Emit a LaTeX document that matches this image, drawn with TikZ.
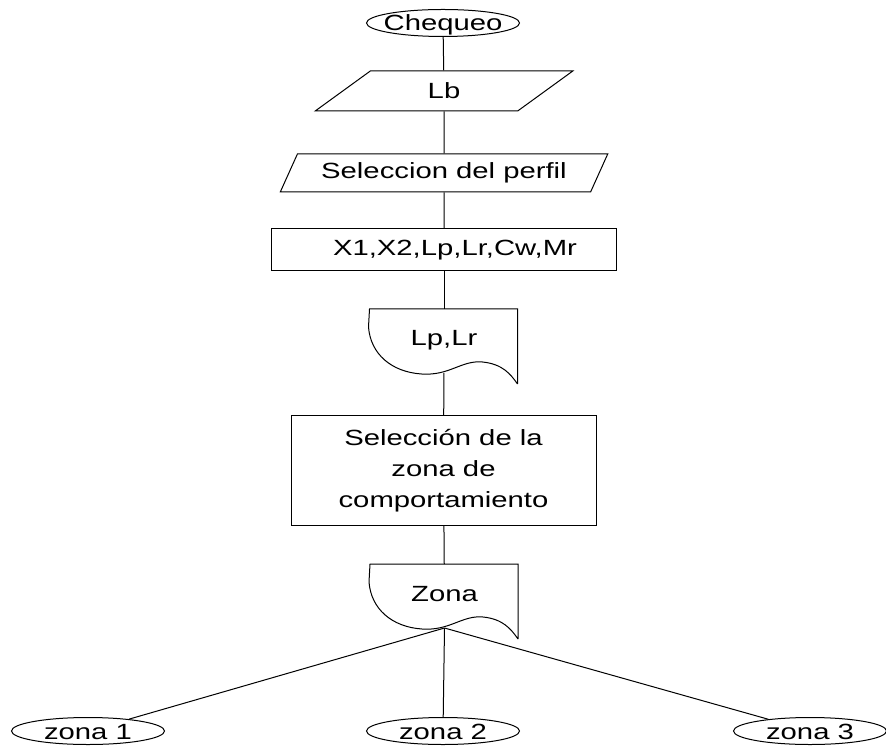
\documentclass[tikz,border=0pt]{standalone}
\usepackage{fontspec}
\setmainfont[FakeStretch=1.33]{Liberation Sans}
\usetikzlibrary{shapes.geometric}
\tikzset{
  base/.style  = {line width=0.5pt, inner sep=0pt, align=center},
  term/.style  = {base, draw, ellipse, minimum width=76.5pt, minimum height=13.5pt,
                  text height=8pt, text depth=0pt},
  io/.style    = {base, draw, trapezium, trapezium left angle=53, trapezium right angle=127,
                  trapezium stretches=true},
  proc/.style  = {base, draw, rectangle},
  docnode/.style = {base, rectangle, minimum width=74pt, text height=8pt, text depth=3pt,
                    inner ysep=10.25pt},
  link/.style  = {line width=0.5pt},
  docshape/.pic = {
    \draw[line width=0.5pt] (148,75) -- (148,0) -- (0,0) -- (-1,18)
      .. controls (1,45) and (22,63) .. (52,65)
      .. controls (80,67) and (92,51) .. (113,53)
      .. controls (133,55) and (141,65) .. (148,75);
  },
}

\begin{document}
\begin{tikzpicture}[x=0.5pt, y=-0.5pt, font=\fontsize{11}{15.5}\selectfont]
  \useasboundingbox (0,0) rectangle (886,747);
  \node[term] (chq) at (443,23) {\makebox[0pt]{Chequeo}};
  \node[io, minimum width=129pt, minimum height=20pt] (lb) at (444,91) {Lb};
  \node[io, minimum width=164pt, minimum height=19pt, trapezium left angle=55,
        trapezium right angle=125] (perfil) at (444,173) {Seleccion del perfil};
  \node[proc, minimum width=172.5pt, minimum height=21pt] (datos) at (444,250)
        {\hspace{11pt}X1,X2,Lp,Lr,Cw,Mr};
  \node[docnode, anchor=north] (lplr) at (444,309) {Lp,Lr};
  \pic at (lplr.north west) {docshape};
  \node[proc, minimum width=152.5pt, minimum height=54.5pt] (selzona) at (443.5,470.5)
        {Selección de la\\zona de\\comportamiento};
  \node[docnode, anchor=north] (zona) at (444.5,564) {Zona};
  \pic at (zona.north west) {docshape};
  \node[term] (z1) at (88,731) {\makebox[0pt]{zona 1}};
  \node[term] (z2) at (443,731) {\makebox[0pt]{zona 2}};
  \node[term] (z3) at (810,731) {\makebox[0pt]{zona 3}};
  \draw[link] (chq) -- (lb);
  \draw[link] (lb) -- (perfil);
  \draw[link] (perfil) -- (datos);
  \draw[link] (datos) -- (lplr);
  \draw[link] (lplr) -- (selzona);
  \draw[link] (selzona) -- (zona);
  \draw[link] (zona.south) -- (z1);
  \draw[link] (zona.south) -- (z2);
  \draw[link] (zona.south) -- (z3);
\end{tikzpicture}
\end{document}
